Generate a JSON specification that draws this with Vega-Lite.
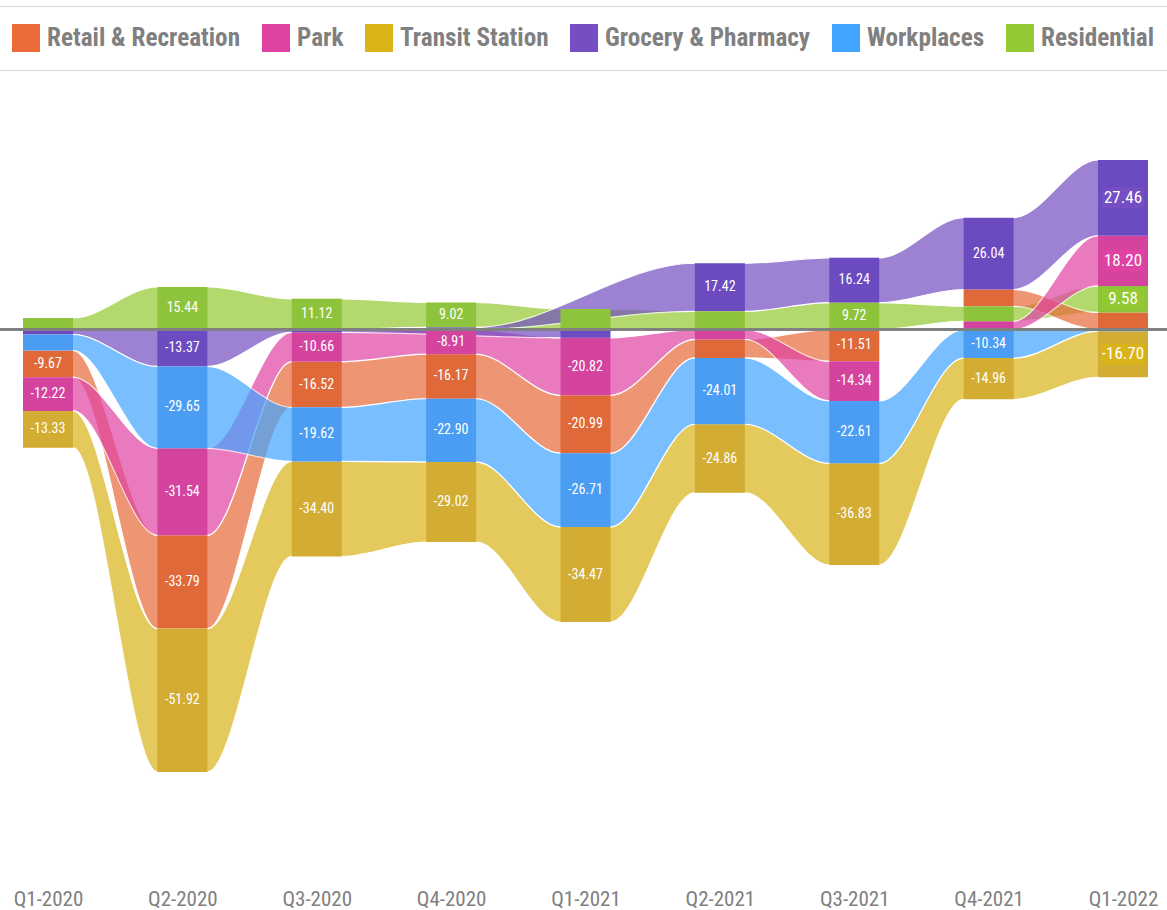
{
  "$schema": "https://vega.github.io/schema/vega-lite/v6.json",
  "width": 1167,
  "height": 790,
  "autosize": {"type": "none"},
  "padding": {"left": 0, "right": 0, "top": 80, "bottom": 40},
  "background": "white",
  "config": {
    "view": {"stroke": null},
    "font": "Roboto Condensed, Roboto, sans-serif",
    "locale": {"number": {"decimal": ".", "thousands": ",", "grouping": [3], "currency": ["$", ""], "minus": "-"}},
    "axisX": {"title": null, "domain": false, "ticks": false, "tickSize": 0, "grid": false, "labelPadding": 18, "labelFont": "Roboto Condensed, Roboto, sans-serif", "labelFontSize": 21, "labelColor": "#808080", "labelAngle": 0}
  },
  "data": {
    "values": [
      {"q": "Q1-2020", "qi": 0, "cat": "Retail & Recreation", "v": -9.67},
      {"q": "Q1-2020", "qi": 0, "cat": "Park", "v": -12.22},
      {"q": "Q1-2020", "qi": 0, "cat": "Transit Station", "v": -13.33},
      {"q": "Q1-2020", "qi": 0, "cat": "Grocery & Pharmacy", "v": -1.8},
      {"q": "Q1-2020", "qi": 0, "cat": "Workplaces", "v": -5.8},
      {"q": "Q1-2020", "qi": 0, "cat": "Residential", "v": 4.2},
      {"q": "Q2-2020", "qi": 1, "cat": "Retail & Recreation", "v": -33.79},
      {"q": "Q2-2020", "qi": 1, "cat": "Park", "v": -31.54},
      {"q": "Q2-2020", "qi": 1, "cat": "Transit Station", "v": -51.92},
      {"q": "Q2-2020", "qi": 1, "cat": "Grocery & Pharmacy", "v": -13.37},
      {"q": "Q2-2020", "qi": 1, "cat": "Workplaces", "v": -29.65},
      {"q": "Q2-2020", "qi": 1, "cat": "Residential", "v": 15.44},
      {"q": "Q3-2020", "qi": 2, "cat": "Retail & Recreation", "v": -16.52},
      {"q": "Q3-2020", "qi": 2, "cat": "Park", "v": -10.66},
      {"q": "Q3-2020", "qi": 2, "cat": "Transit Station", "v": -34.4},
      {"q": "Q3-2020", "qi": 2, "cat": "Grocery & Pharmacy", "v": -1.0},
      {"q": "Q3-2020", "qi": 2, "cat": "Workplaces", "v": -19.62},
      {"q": "Q3-2020", "qi": 2, "cat": "Residential", "v": 11.12},
      {"q": "Q4-2020", "qi": 3, "cat": "Retail & Recreation", "v": -16.17},
      {"q": "Q4-2020", "qi": 3, "cat": "Park", "v": -8.91},
      {"q": "Q4-2020", "qi": 3, "cat": "Transit Station", "v": -29.02},
      {"q": "Q4-2020", "qi": 3, "cat": "Grocery & Pharmacy", "v": 0.8},
      {"q": "Q4-2020", "qi": 3, "cat": "Workplaces", "v": -22.9},
      {"q": "Q4-2020", "qi": 3, "cat": "Residential", "v": 9.02},
      {"q": "Q1-2021", "qi": 4, "cat": "Retail & Recreation", "v": -20.99},
      {"q": "Q1-2021", "qi": 4, "cat": "Park", "v": -20.82},
      {"q": "Q1-2021", "qi": 4, "cat": "Transit Station", "v": -34.47},
      {"q": "Q1-2021", "qi": 4, "cat": "Grocery & Pharmacy", "v": -3.0},
      {"q": "Q1-2021", "qi": 4, "cat": "Workplaces", "v": -26.71},
      {"q": "Q1-2021", "qi": 4, "cat": "Residential", "v": 7.4},
      {"q": "Q2-2021", "qi": 5, "cat": "Retail & Recreation", "v": -6.7},
      {"q": "Q2-2021", "qi": 5, "cat": "Park", "v": -3.6},
      {"q": "Q2-2021", "qi": 5, "cat": "Transit Station", "v": -24.86},
      {"q": "Q2-2021", "qi": 5, "cat": "Grocery & Pharmacy", "v": 17.42},
      {"q": "Q2-2021", "qi": 5, "cat": "Workplaces", "v": -24.01},
      {"q": "Q2-2021", "qi": 5, "cat": "Residential", "v": 6.6},
      {"q": "Q3-2021", "qi": 6, "cat": "Retail & Recreation", "v": -11.51},
      {"q": "Q3-2021", "qi": 6, "cat": "Park", "v": -14.34},
      {"q": "Q3-2021", "qi": 6, "cat": "Transit Station", "v": -36.83},
      {"q": "Q3-2021", "qi": 6, "cat": "Grocery & Pharmacy", "v": 16.24},
      {"q": "Q3-2021", "qi": 6, "cat": "Workplaces", "v": -22.61},
      {"q": "Q3-2021", "qi": 6, "cat": "Residential", "v": 9.72},
      {"q": "Q4-2021", "qi": 7, "cat": "Retail & Recreation", "v": 6.1},
      {"q": "Q4-2021", "qi": 7, "cat": "Park", "v": 3.0},
      {"q": "Q4-2021", "qi": 7, "cat": "Transit Station", "v": -14.96},
      {"q": "Q4-2021", "qi": 7, "cat": "Grocery & Pharmacy", "v": 26.04},
      {"q": "Q4-2021", "qi": 7, "cat": "Workplaces", "v": -10.34},
      {"q": "Q4-2021", "qi": 7, "cat": "Residential", "v": 5.4},
      {"q": "Q1-2022", "qi": 8, "cat": "Retail & Recreation", "v": 6.2},
      {"q": "Q1-2022", "qi": 8, "cat": "Park", "v": 18.2},
      {"q": "Q1-2022", "qi": 8, "cat": "Transit Station", "v": -16.7},
      {"q": "Q1-2022", "qi": 8, "cat": "Grocery & Pharmacy", "v": 27.46},
      {"q": "Q1-2022", "qi": 8, "cat": "Workplaces", "v": -0.6},
      {"q": "Q1-2022", "qi": 8, "cat": "Residential", "v": 9.58}
    ]
  },
  "layer": [
    {
      "transform": [
        {"filter": "datum.v >= 0"},
        {"stack": "v", "groupby": ["q"], "sort": [{"field": "v", "order": "ascending"}], "as": ["y0", "y1"]}
      ],
      "layer": [
        {
          "transform": [{"fold": ["qi", "v"], "as": ["side", "fv"]}],
          "mark": {"type": "area", "interpolate": "monotone", "opacity": 0.7, "stroke": "white", "strokeWidth": 1.2},
          "encoding": {
            "x": {"field": "q", "type": "ordinal", "sort": ["Q1-2020","Q2-2020","Q3-2020","Q4-2020","Q1-2021","Q2-2021","Q3-2021","Q4-2021","Q1-2022"], "scale": {"type": "point", "range": [48, 1123], "padding": 0}, "axis": {"title": null}},
            "xOffset": {"field": "side", "type": "nominal", "scale": {"type": "point", "domain": ["qi", "v"], "range": [-25, 25], "padding": 0}},
            "y": {"field": "y0", "type": "quantitative", "stack": null, "scale": {"domain": [-195.8, 90.4], "nice": false, "zero": false}, "axis": null},
            "y2": {"field": "y1"},
            "color": {"field": "cat", "type": "nominal",
              "scale": {"domain": ["Retail & Recreation", "Park", "Transit Station", "Grocery & Pharmacy", "Workplaces", "Residential"], "range": ["#E86B38", "#E042A3", "#DAB318", "#744EC2", "#41A5FF", "#93C932"]},
              "legend": {"title": null, "orient": "none", "legendX": -6, "legendY": -74, "direction": "horizontal", "symbolType": "square", "symbolSize": 784, "symbolOpacity": 1, "symbolStrokeWidth": 0, "labelFont": "Roboto Condensed, Roboto, sans-serif", "labelFontWeight": "bold", "labelFontSize": 25.2, "labelColor": "#808080", "labelOffset": 7, "columnPadding": 21, "strokeColor": "#d8d8d8", "padding": 18, "labelLimit": 400}},
            "order": [{"field": "qi", "type": "quantitative"}, {"field": "side", "type": "nominal"}]
          }
        },
        {
          "mark": {"type": "bar", "width": 50},
          "encoding": {
            "x": {"field": "q", "type": "ordinal", "sort": ["Q1-2020","Q2-2020","Q3-2020","Q4-2020","Q1-2021","Q2-2021","Q3-2021","Q4-2021","Q1-2022"]},
            "y": {"field": "y0", "type": "quantitative", "stack": null, "axis": null},
            "y2": {"field": "y1"},
            "fill": {"field": "cat", "type": "nominal", "legend": null,
              "scale": {"domain": ["Retail & Recreation", "Park", "Transit Station", "Grocery & Pharmacy", "Workplaces", "Residential"], "range": ["#E0693A", "#D4449F", "#D3AD33", "#6B4BBF", "#4A9DF2", "#8EC43B"]}}
          }
        },
        {
          "transform": [
            {"filter": "abs(datum.v) >= 8 && datum.q == 'Q1-2022'"},
            {"fold": ["y0", "y1"], "as": ["yk", "yv"]},
            {"aggregate": [{"op": "mean", "field": "yv", "as": "ym"}], "groupby": ["q", "cat", "v"]}
          ],
          "mark": {"type": "tick", "orient": "horizontal", "size": 42, "thickness": 21, "opacity": 1},
          "encoding": {
            "x": {"field": "q", "type": "ordinal", "sort": ["Q1-2020","Q2-2020","Q3-2020","Q4-2020","Q1-2021","Q2-2021","Q3-2021","Q4-2021","Q1-2022"]},
            "y": {"field": "ym", "type": "quantitative", "axis": null},
            "color": {"field": "cat", "type": "nominal"}
          }
        },
        {
          "transform": [
            {"filter": "abs(datum.v) >= 8"},
            {"fold": ["y0", "y1"], "as": ["yk", "yv"]},
            {"aggregate": [{"op": "mean", "field": "yv", "as": "ym"}], "groupby": ["q", "cat", "v"]}
          ],
          "mark": {"type": "text", "color": "white", "font": "Roboto Condensed, Roboto, sans-serif", "fontSize": 14},
          "encoding": {
            "x": {"field": "q", "type": "ordinal", "sort": ["Q1-2020","Q2-2020","Q3-2020","Q4-2020","Q1-2021","Q2-2021","Q3-2021","Q4-2021","Q1-2022"]},
            "y": {"field": "ym", "type": "quantitative", "axis": null},
            "text": {"field": "v", "type": "quantitative", "format": ".2f"},
            "size": {"condition": {"test": "datum.q == 'Q1-2022'", "value": 17}, "value": 14},
            "fontWeight": {"condition": {"test": "datum.q == 'Q1-2022'", "value": "bold"}, "value": "normal"}
          }
        }
      ]
    },
    {
      "transform": [
        {"filter": "datum.v < 0"},
        {"stack": "v", "groupby": ["q"], "sort": [{"field": "v", "order": "descending"}], "as": ["y0", "y1"]}
      ],
      "layer": [
        {
          "transform": [{"fold": ["qi", "v"], "as": ["side", "fv"]}],
          "mark": {"type": "area", "interpolate": "monotone", "opacity": 0.7, "stroke": "white", "strokeWidth": 1.2},
          "encoding": {
            "x": {"field": "q", "type": "ordinal", "sort": ["Q1-2020","Q2-2020","Q3-2020","Q4-2020","Q1-2021","Q2-2021","Q3-2021","Q4-2021","Q1-2022"]},
            "xOffset": {"field": "side", "type": "nominal", "scale": {"type": "point", "domain": ["qi", "v"], "range": [-25, 25], "padding": 0}},
            "y": {"field": "y0", "type": "quantitative", "stack": null, "axis": null},
            "y2": {"field": "y1"},
            "color": {"field": "cat", "type": "nominal"},
            "order": [{"field": "qi", "type": "quantitative"}, {"field": "side", "type": "nominal"}]
          }
        },
        {
          "mark": {"type": "bar", "width": 50},
          "encoding": {
            "x": {"field": "q", "type": "ordinal", "sort": ["Q1-2020","Q2-2020","Q3-2020","Q4-2020","Q1-2021","Q2-2021","Q3-2021","Q4-2021","Q1-2022"]},
            "y": {"field": "y0", "type": "quantitative", "stack": null, "axis": null},
            "y2": {"field": "y1"},
            "fill": {"field": "cat", "type": "nominal", "legend": null}
          }
        },
        {
          "transform": [
            {"filter": "abs(datum.v) >= 8 && datum.q == 'Q1-2022'"},
            {"fold": ["y0", "y1"], "as": ["yk", "yv"]},
            {"aggregate": [{"op": "mean", "field": "yv", "as": "ym"}], "groupby": ["q", "cat", "v"]}
          ],
          "mark": {"type": "tick", "orient": "horizontal", "size": 44, "thickness": 21, "opacity": 1},
          "encoding": {
            "x": {"field": "q", "type": "ordinal", "sort": ["Q1-2020","Q2-2020","Q3-2020","Q4-2020","Q1-2021","Q2-2021","Q3-2021","Q4-2021","Q1-2022"]},
            "y": {"field": "ym", "type": "quantitative", "axis": null},
            "color": {"field": "cat", "type": "nominal"}
          }
        },
        {
          "transform": [
            {"filter": "abs(datum.v) >= 8"},
            {"fold": ["y0", "y1"], "as": ["yk", "yv"]},
            {"aggregate": [{"op": "mean", "field": "yv", "as": "ym"}], "groupby": ["q", "cat", "v"]}
          ],
          "mark": {"type": "text", "color": "white", "font": "Roboto Condensed, Roboto, sans-serif", "fontSize": 14},
          "encoding": {
            "x": {"field": "q", "type": "ordinal", "sort": ["Q1-2020","Q2-2020","Q3-2020","Q4-2020","Q1-2021","Q2-2021","Q3-2021","Q4-2021","Q1-2022"]},
            "y": {"field": "ym", "type": "quantitative", "axis": null},
            "text": {"field": "v", "type": "quantitative", "format": ".2f"},
            "size": {"condition": {"test": "datum.q == 'Q1-2022'", "value": 17}, "value": 14},
            "fontWeight": {"condition": {"test": "datum.q == 'Q1-2022'", "value": "bold"}, "value": "normal"}
          }
        }
      ]
    },
    {
      "data": {"values": [{}]},
      "mark": {"type": "rule", "color": "#808080", "strokeWidth": 3},
      "encoding": {"y": {"datum": 0, "type": "quantitative"}}
    }
  ]
}
